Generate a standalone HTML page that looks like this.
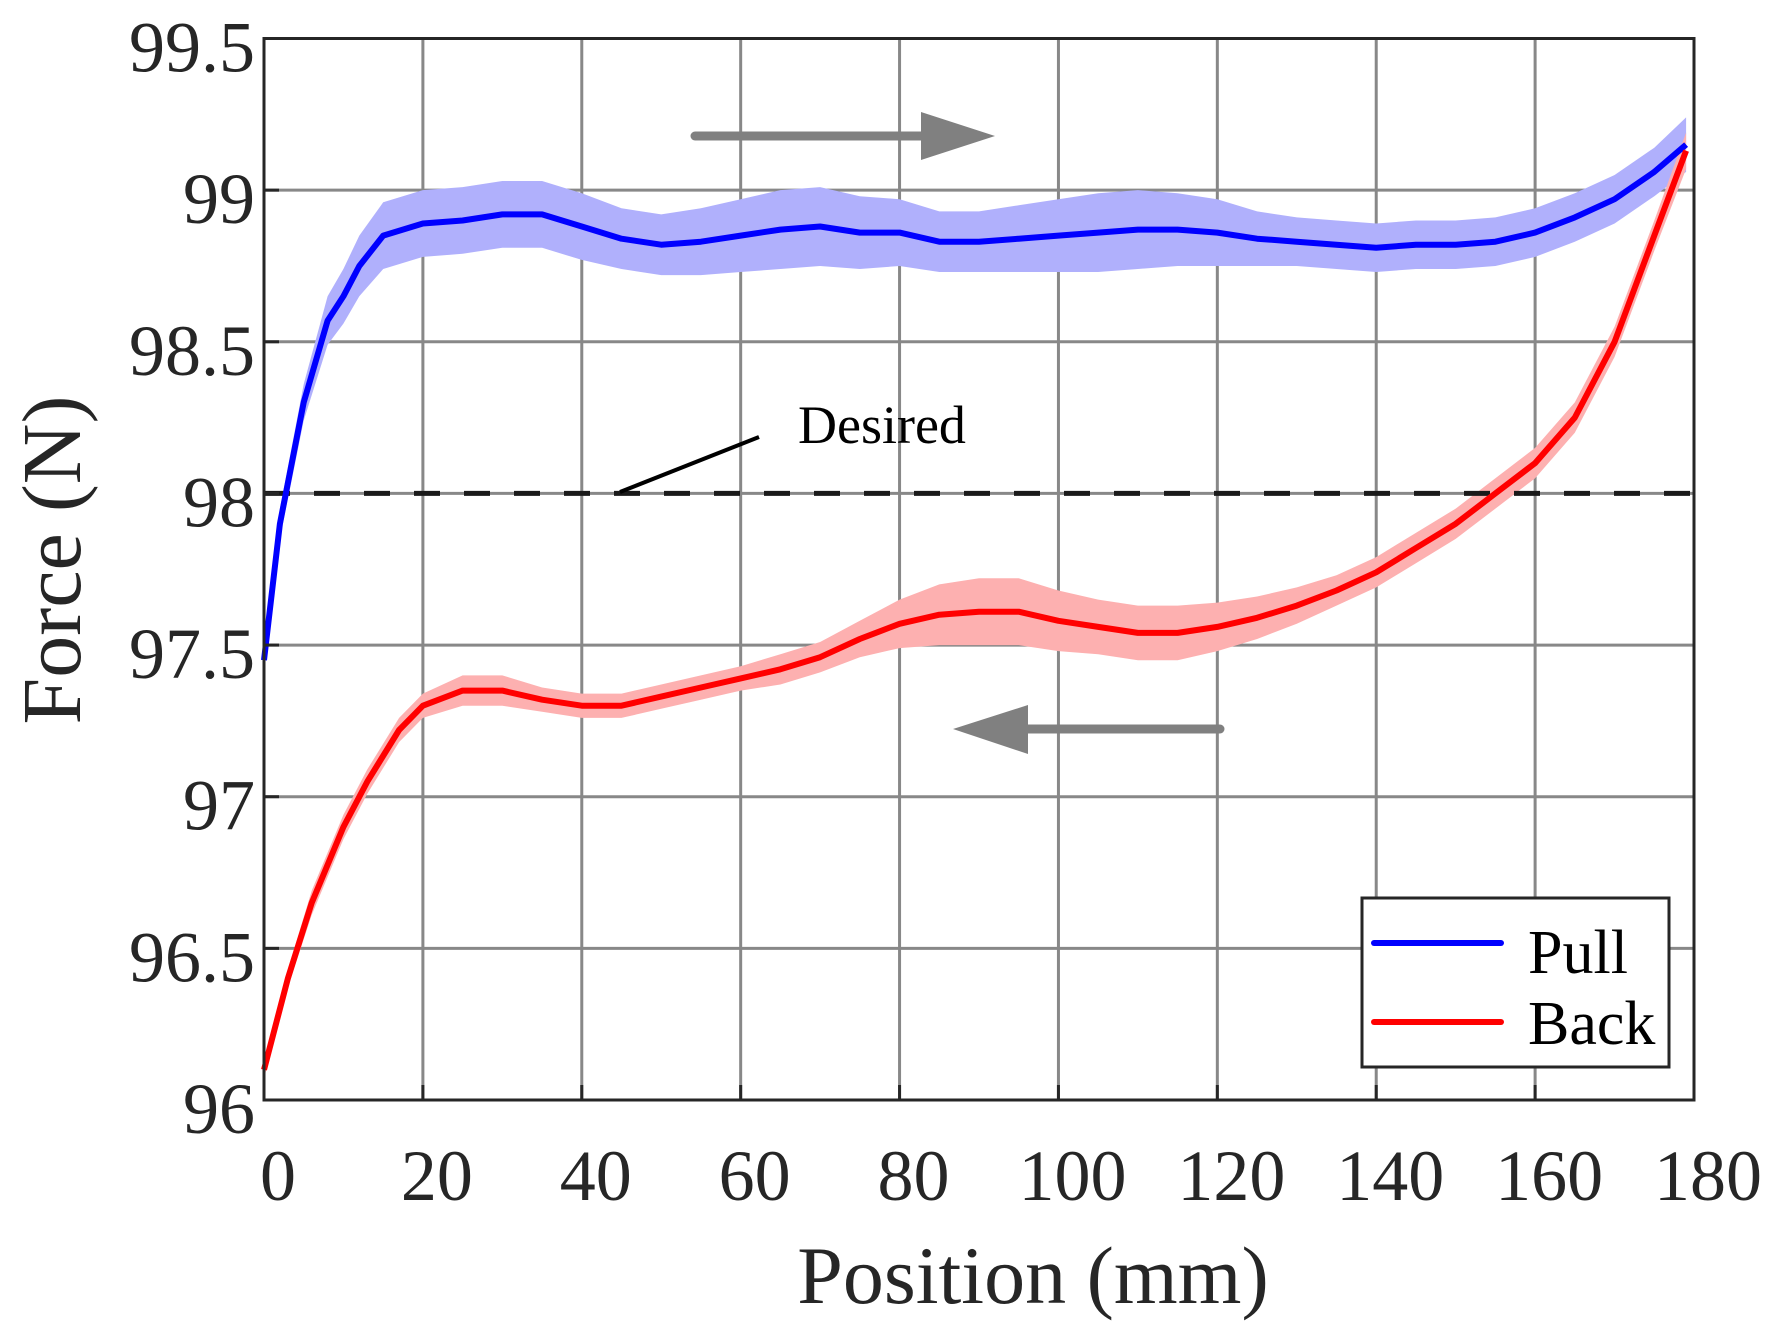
<!DOCTYPE html>
<html><head><meta charset="utf-8"><style>
html,body{margin:0;padding:0;background:#fff}
svg{display:block;font-family:"Liberation Serif",serif}
</style></head><body>
<svg id="chart" width="1781" height="1329" viewBox="0 0 1781 1329" xmlns="http://www.w3.org/2000/svg">
<g id="grid"></g>
<g id="bands"></g>
<line id="desired" stroke="#1a1a1a" stroke-width="5" stroke-dasharray="26,24"/>
<g id="lines"></g>
<g id="axes"></g>
<g>
  <line x1="695" y1="136" x2="925" y2="136" stroke="#808080" stroke-width="9" stroke-linecap="round"/>
  <polygon points="921,112 995,136 921,160" fill="#808080"/>
  <line x1="1220" y1="729" x2="1025" y2="729" stroke="#808080" stroke-width="9" stroke-linecap="round"/>
  <polygon points="1028,705 953,729 1028,754" fill="#808080"/>
</g>
<line x1="620" y1="492" x2="759" y2="437" stroke="#000" stroke-width="4"/>
<text x="798" y="443" font-size="54" fill="#000">Desired</text>
<g>
  <rect x="1362" y="898" width="307" height="169" fill="#fff" stroke="#262626" stroke-width="3"/>
  <line x1="1374" y1="943" x2="1501" y2="943" stroke="#0000ff" stroke-width="6" stroke-linecap="round"/>
  <text x="1528" y="973" font-size="62" fill="#000">Pull</text>
  <line x1="1374" y1="1022" x2="1501" y2="1022" stroke="#ff0000" stroke-width="6" stroke-linecap="round"/>
  <text x="1528" y="1044" font-size="62" fill="#000">Back</text>
</g>
<text x="1033" y="1303" font-size="82" text-anchor="middle" fill="#262626">Position (mm)</text>
<text transform="translate(80,560) rotate(-90)" font-size="84" text-anchor="middle" fill="#262626">Force (N)</text>
</svg>
<script>
const xTicks=[0,20,40,60,80,100,120,140,160,180];
const yTicks=[96,96.5,97,97.5,98,98.5,99,99.5];
const yTickLabels=["96","96.5","97","97.5","98","98.5","99","99.5"];
const desiredForce=98;
const pullX=[0,2,5,8,10,12,15,20,25,30,35,40,45,50,55,60,65,70,75,80,85,90,95,100,105,110,115,120,125,130,135,140,145,150,155,160,165,170,175,179];
const pullY=[97.45,97.9,98.3,98.57,98.65,98.75,98.85,98.89,98.9,98.92,98.92,98.88,98.84,98.82,98.83,98.85,98.87,98.88,98.86,98.86,98.83,98.83,98.84,98.85,98.86,98.87,98.87,98.86,98.84,98.83,98.82,98.81,98.82,98.82,98.83,98.86,98.91,98.97,99.06,99.15];
const pullErr=[0.03,0.05,0.06,0.08,0.09,0.1,0.11,0.11,0.11,0.11,0.11,0.11,0.1,0.1,0.11,0.12,0.13,0.13,0.12,0.11,0.1,0.1,0.11,0.12,0.13,0.13,0.12,0.11,0.09,0.08,0.08,0.08,0.08,0.08,0.08,0.08,0.08,0.08,0.08,0.09];
const backX=[0,3,6,10,13,17,20,25,30,35,40,45,50,55,60,65,70,75,80,85,90,95,100,105,110,115,120,125,130,135,140,145,150,155,160,165,170,175,179];
const backY=[96.1,96.4,96.65,96.9,97.05,97.22,97.3,97.35,97.35,97.32,97.3,97.3,97.33,97.36,97.39,97.42,97.46,97.52,97.57,97.6,97.61,97.61,97.58,97.56,97.54,97.54,97.56,97.59,97.63,97.68,97.74,97.82,97.9,98.0,98.1,98.25,98.5,98.85,99.13];
const backErr=[0.03,0.03,0.04,0.04,0.04,0.04,0.04,0.05,0.05,0.04,0.04,0.04,0.04,0.04,0.04,0.05,0.05,0.06,0.08,0.1,0.11,0.11,0.1,0.09,0.09,0.09,0.08,0.07,0.06,0.05,0.05,0.05,0.05,0.05,0.05,0.05,0.05,0.05,0.06];

const X0=264,X1=1694,Y0=1100,Y1=38.5;
const sx=v=>X0+(v-0)/(180-0)*(X1-X0);
const sy=v=>Y0-(v-96)/(99.5-96)*(Y0-Y1);
const NS="http://www.w3.org/2000/svg";
function mk(tag,attrs,parent){const e=document.createElementNS(NS,tag);for(const k in attrs)e.setAttribute(k,attrs[k]);parent.appendChild(e);return e;}
const grid=document.getElementById('grid'),axes=document.getElementById('axes');
xTicks.forEach((t,i)=>{
  const g=mk('line',{x1:sx(t),x2:sx(t),y1:Y1,y2:Y0,stroke:'#888',"stroke-width":3},grid);
  
  
  const tk=mk('line',{x1:sx(t),x2:sx(t),y1:Y0,y2:Y0-15,stroke:'#262626',"stroke-width":3},axes);
  
  
  const tx=mk('text',{x:sx(t)+14,y:1200,"font-size":72,"text-anchor":"middle",fill:'#262626'},axes);
  tx.textContent=String(t);
  
  
});
yTicks.forEach((t,i)=>{
  const g=mk('line',{x1:X0,x2:X1,y1:sy(t),y2:sy(t),stroke:'#888',"stroke-width":3},grid);
  
  
  const tk=mk('line',{x1:X0,x2:X0+15,y1:sy(t),y2:sy(t),stroke:'#262626',"stroke-width":3},axes);
  
  
  const tx=mk('text',{x:255,y:sy(t)+33,"font-size":72,"text-anchor":"end",fill:'#262626'},axes);
  tx.textContent=yTickLabels[i];
  
  
});
const frame=mk('path',{d:`M${X0},${Y1}V${Y0}H${X1}V${Y1}Z`,fill:'none',stroke:'#262626',"stroke-width":3},axes);


const d=document.getElementById('desired');
d.setAttribute('x1',X0);d.setAttribute('x2',X1);d.setAttribute('y1',sy(desiredForce));d.setAttribute('y2',sy(desiredForce));

function band(xs,ys,es,fill,name){
  let p=xs.map((x,i)=>`${i?'L':'M'}${sx(x).toFixed(1)},${sy(ys[i]+es[i]).toFixed(1)}`).join('');
  for(let i=xs.length-1;i>=0;i--)p+=`L${sx(xs[i]).toFixed(1)},${sy(ys[i]-es[i]).toFixed(1)}`;
  const e=mk('path',{d:p+'Z',fill:fill},document.getElementById('bands'));
  
  
}
function line(xs,ys,col,name){
  const p=xs.map((x,i)=>`${i?'L':'M'}${sx(x).toFixed(1)},${sy(ys[i]).toFixed(1)}`).join('');
  const e=mk('path',{d:p,fill:'none',stroke:col,"stroke-width":6,"stroke-linejoin":"round"},document.getElementById('lines'));
  
  
}
band(pullX,pullY,pullErr,'#b0b0fc','pull-band');
band(backX,backY,backErr,'#fdb0b0','back-band');
line(pullX,pullY,'#0000ff','pull-line');
line(backX,backY,'#ff0000','back-line');
</script>
</body></html>
